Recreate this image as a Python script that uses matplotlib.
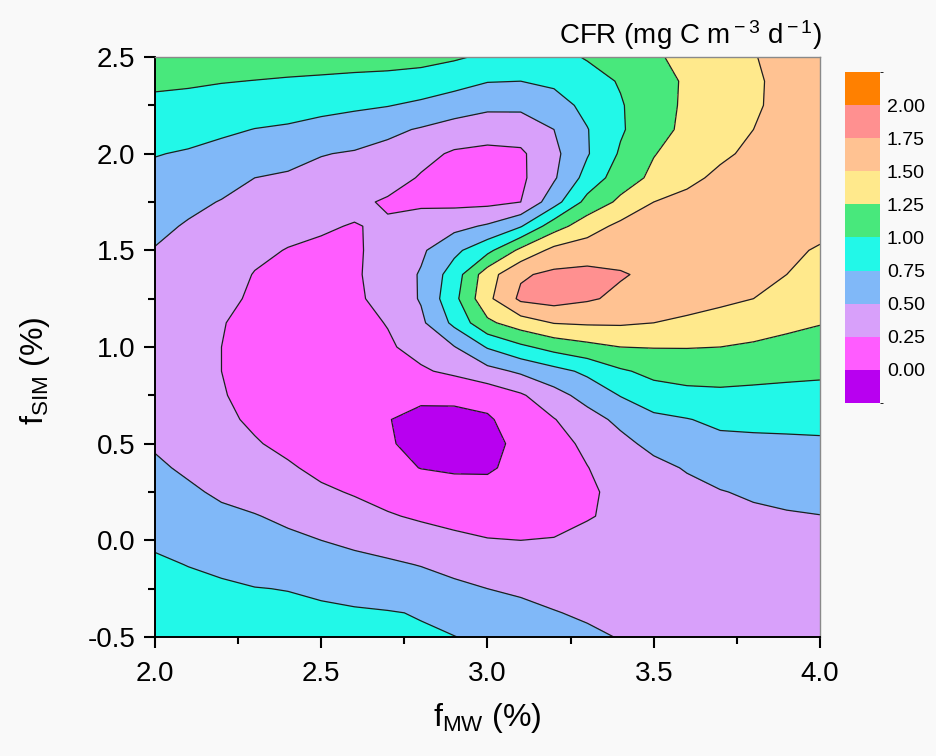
import numpy as np
import matplotlib
matplotlib.use('Agg')
import matplotlib.pyplot as plt
from matplotlib.colors import ListedColormap, BoundaryNorm
from matplotlib.ticker import MultipleLocator, FormatStrFormatter

plt.rcParams['font.family'] = ['Liberation Sans', 'DejaVu Sans']
plt.rcParams['mathtext.fontset'] = 'custom'
plt.rcParams['mathtext.rm'] = 'Liberation Sans'
plt.rcParams['mathtext.it'] = 'Liberation Sans:italic'
plt.rcParams['axes.unicode_minus'] = False

# ---- data ----
f_mw = [2.0, 2.1, 2.2, 2.3, 2.4, 2.5, 2.6, 2.7, 2.8, 2.9, 3.0,
        3.1, 3.2, 3.3, 3.4, 3.5, 3.6, 3.7, 3.8, 3.9, 4.0]
f_sim = [-0.5, -0.375, -0.25, -0.125, 0.0, 0.125, 0.25, 0.375, 0.5, 0.625,
         0.75, 0.875, 1.0, 1.125, 1.25, 1.375, 1.5, 1.625, 1.75, 1.875,
         2.0, 2.125, 2.25, 2.375, 2.5]

cfr_m0500 = [0.93, 0.91, 0.89, 0.87, 0.85, 0.83, 0.81, 0.79, 0.77, 0.755, 0.70, 0.65, 0.60, 0.54, 0.49, 0.45, 0.42, 0.40, 0.38, 0.37, 0.36]
cfr_m0375 = [0.87, 0.85, 0.83, 0.81, 0.79, 0.78, 0.77, 0.76, 0.74, 0.66, 0.62, 0.57, 0.51, 0.47, 0.43, 0.40, 0.38, 0.37, 0.36, 0.36, 0.36]
cfr_m0250 = [0.82, 0.80, 0.78, 0.755, 0.745, 0.72, 0.69, 0.66, 0.61, 0.55, 0.50, 0.46, 0.43, 0.40, 0.37, 0.35, 0.34, 0.35, 0.36, 0.37, 0.38]
cfr_m0125 = [0.78, 0.745, 0.71, 0.68, 0.64, 0.61, 0.57, 0.535, 0.49, 0.43, 0.38, 0.35, 0.34, 0.32, 0.31, 0.32, 0.33, 0.34, 0.36, 0.38, 0.40]
cfr_p0000 = [0.72, 0.67, 0.63, 0.58, 0.54, 0.50, 0.45, 0.40, 0.35, 0.30, 0.26, 0.25, 0.26, 0.29, 0.32, 0.34, 0.36, 0.38, 0.40, 0.42, 0.44]
cfr_p0125 = [0.66, 0.60, 0.54, 0.51, 0.46, 0.39, 0.34, 0.27, 0.22, 0.18, 0.16, 0.16, 0.18, 0.24, 0.28, 0.33, 0.38, 0.42, 0.46, 0.48, 0.495]
cfr_p0250 = [0.59, 0.53, 0.47, 0.42, 0.36, 0.29, 0.23, 0.17, 0.12, 0.09, 0.08, 0.10, 0.15, 0.22, 0.30, 0.36, 0.43, 0.49, 0.53, 0.56, 0.58]
cfr_p0375 = [0.53, 0.47, 0.44, 0.40, 0.28, 0.19, 0.12, 0.06, -0.005, -0.03, -0.03, 0.07, 0.16, 0.245, 0.34, 0.43, 0.52, 0.59, 0.62, 0.63, 0.645]
cfr_p0500 = [0.48, 0.42, 0.34, 0.27, 0.19, 0.12, 0.06, 0.02, -0.06, -0.09, -0.06, 0.05, 0.18, 0.29, 0.43, 0.57, 0.65, 0.69, 0.70, 0.71, 0.72]
cfr_p0625 = [0.44, 0.38, 0.30, 0.21, 0.12, 0.07, 0.03, 0.005, -0.04, -0.05, -0.03, 0.12, 0.24, 0.40, 0.56, 0.69, 0.74, 0.80, 0.81, 0.81, 0.81]
cfr_p0750 = [0.41, 0.35, 0.27, 0.16, 0.10, 0.06, 0.04, 0.03, 0.03, 0.04, 0.09, 0.22, 0.41, 0.59, 0.76, 0.90, 0.94, 0.95, 0.94, 0.93, 0.93]
cfr_p0875 = [0.39, 0.33, 0.25, 0.16, 0.11, 0.09, 0.10, 0.15, 0.22, 0.30, 0.42, 0.54, 0.67, 0.80, 0.97, 1.06, 1.09, 1.10, 1.08, 1.06, 1.04]
cfr_p1000 = [0.38, 0.34, 0.25, 0.17, 0.12, 0.11, 0.14, 0.22, 0.33, 0.49, 0.77, 0.95, 1.09, 1.18, 1.25, 1.26, 1.26, 1.25, 1.22, 1.19, 1.16]
cfr_p1125 = [0.40, 0.36, 0.26, 0.19, 0.15, 0.14, 0.18, 0.26, 0.45, 0.81, 1.20, 1.38, 1.51, 1.53, 1.53, 1.50, 1.46, 1.41, 1.36, 1.30, 1.26]
cfr_p1250 = [0.42, 0.38, 0.30, 0.22, 0.17, 0.17, 0.21, 0.33, 0.52, 0.93, 1.44, 1.80, 1.85, 1.78, 1.70, 1.64, 1.59, 1.55, 1.50, 1.41, 1.33]
cfr_p1375 = [0.45, 0.42, 0.35, 0.24, 0.20, 0.19, 0.22, 0.35, 0.52, 0.87, 1.39, 1.72, 1.80, 1.82, 1.77, 1.70, 1.66, 1.61, 1.56, 1.50, 1.41]
cfr_p1500 = [0.49, 0.44, 0.40, 0.30, 0.24, 0.22, 0.22, 0.33, 0.46, 0.69, 0.93, 1.31, 1.57, 1.62, 1.65, 1.65, 1.63, 1.60, 1.56, 1.54, 1.48]
cfr_p1625 = [0.55, 0.48, 0.44, 0.37, 0.32, 0.27, 0.24, 0.28, 0.36, 0.43, 0.53, 0.73, 1.14, 1.39, 1.56, 1.60, 1.62, 1.62, 1.61, 1.59, 1.56]
cfr_p1750 = [0.62, 0.55, 0.49, 0.43, 0.39, 0.35, 0.30, 0.22, 0.21, 0.19, 0.19, 0.25, 0.65, 1.08, 1.30, 1.50, 1.58, 1.62, 1.65, 1.66, 1.64]
cfr_p1875 = [0.69, 0.64, 0.58, 0.50, 0.47, 0.43, 0.40, 0.35, 0.23, 0.17, 0.15, 0.20, 0.47, 0.84, 1.13, 1.30, 1.43, 1.56, 1.63, 1.67, 1.69]
cfr_p2000 = [0.76, 0.73, 0.68, 0.62, 0.58, 0.51, 0.48, 0.43, 0.32, 0.22, 0.20, 0.21, 0.44, 0.73, 1.03, 1.24, 1.35, 1.45, 1.56, 1.64, 1.69]
cfr_p2125 = [0.856, 0.83, 0.79, 0.745, 0.72, 0.67, 0.625, 0.55, 0.48, 0.40, 0.34, 0.37, 0.50, 0.74, 0.97, 1.17, 1.30, 1.40, 1.50, 1.59, 1.66]
cfr_p2250 = [0.95, 0.93, 0.90, 0.87, 0.85, 0.82, 0.79, 0.76, 0.70, 0.625, 0.56, 0.55, 0.64, 0.82, 0.98, 1.15, 1.29, 1.38, 1.47, 1.57, 1.63]
cfr_p2375 = [1.04, 1.03, 1.01, 0.995, 0.98, 0.965, 0.95, 0.94, 0.91, 0.84, 0.76, 0.75, 0.80, 0.90, 1.02, 1.16, 1.28, 1.38, 1.47, 1.56, 1.62]
cfr_p2500 = [1.13, 1.12, 1.12, 1.11, 1.10, 1.10, 1.09, 1.08, 1.07, 1.03, 0.96, 0.88, 0.92, 1.02, 1.11, 1.22, 1.31, 1.40, 1.49, 1.57, 1.63]

level_values = [-0.25, 0.0, 0.25, 0.5, 0.75, 1.0, 1.25, 1.5, 1.75, 2.0, 2.25]
tick_values = [0.0, 0.25, 0.5, 0.75, 1.0, 1.25, 1.5, 1.75, 2.0]
band_colors = ['#b800f0', '#ff5cff', '#d8a0fa', '#80b8f8', '#22f8e8',
               '#48e87c', '#ffe98c', '#ffc292', '#ff9090', '#ff8000']

Z = np.array([cfr_m0500, cfr_m0375, cfr_m0250, cfr_m0125, cfr_p0000, cfr_p0125,
              cfr_p0250, cfr_p0375, cfr_p0500, cfr_p0625, cfr_p0750, cfr_p0875,
              cfr_p1000, cfr_p1125, cfr_p1250, cfr_p1375, cfr_p1500, cfr_p1625,
              cfr_p1750, cfr_p1875, cfr_p2000, cfr_p2125, cfr_p2250, cfr_p2375,
              cfr_p2500])
X, Y = np.meshgrid(f_mw, f_sim)

cmap = ListedColormap(band_colors)
norm = BoundaryNorm(level_values, cmap.N)

fig = plt.figure(figsize=(9.37, 7.56), dpi=100, facecolor='#f9f9f9')
ax = fig.add_axes([0.1654, 0.1574, 0.7097, 0.7672])
cs = ax.contourf(X, Y, Z, levels=level_values, cmap=cmap, norm=norm)
ax.contour(X, Y, Z, levels=tick_values, colors='#1e1e1e', linewidths=0.9)

ax.set_xlim(2.0, 4.0)
ax.set_ylim(-0.5, 2.5)
ax.xaxis.set_major_locator(MultipleLocator(0.5))
ax.xaxis.set_minor_locator(MultipleLocator(0.25))
ax.yaxis.set_major_locator(MultipleLocator(0.5))
ax.yaxis.set_minor_locator(MultipleLocator(0.25))
ax.xaxis.set_major_formatter(FormatStrFormatter('%.1f'))
ax.yaxis.set_major_formatter(FormatStrFormatter('%.1f'))
ax.tick_params(which='major', direction='out', length=8, width=1.5, labelsize=20)
ax.tick_params(axis='x', which='major', pad=9)
ax.tick_params(axis='y', which='major', pad=6)
ax.tick_params(which='minor', direction='out', length=5, width=1.5)
for s in ['left', 'bottom']:
    ax.spines[s].set_linewidth(1.4)
    ax.spines[s].set_color('black')
for s in ['top', 'right']:
    ax.spines[s].set_linewidth(1.0)
    ax.spines[s].set_color('#8a8a8a')

fig.text(0.52, 0.05, r'f$_{\rm MW}$ (%)', ha='center', va='center', fontsize=23)
fig.text(0.037, 0.51, r'f$_{\rm SIM}$ (%)', ha='center', va='center', fontsize=23, rotation=90)
fig.text(0.877, 0.953, r'CFR (mg C m$^{\rm -3}$ d$^{\rm -1}$)', ha='right', va='center', fontsize=20)

cax = fig.add_axes([0.9018, 0.4669, 0.0374, 0.4379])
cb = fig.colorbar(cs, cax=cax, ticks=tick_values)
cb.outline.set_visible(False)
cb.ax.set_yticklabels(['%.2f' % v for v in tick_values])
cb.ax.tick_params(length=0, labelsize=14, pad=5)

fig.savefig('out.png', dpi=100, facecolor=fig.get_facecolor())
